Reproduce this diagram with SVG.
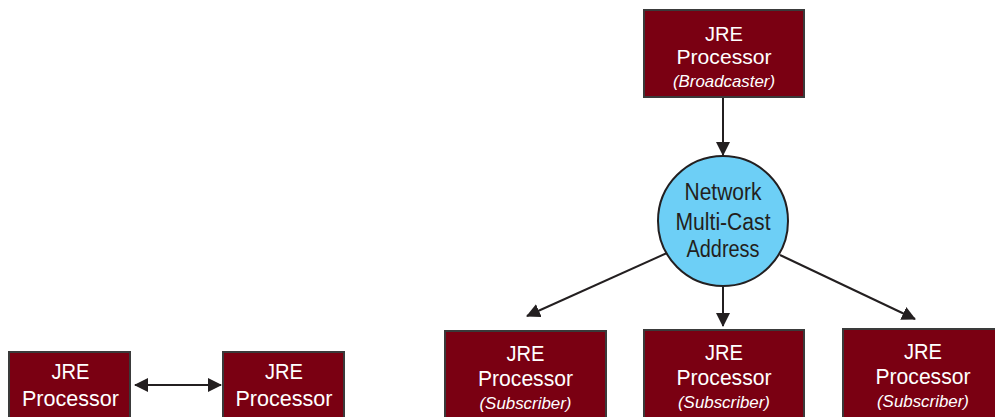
<svg xmlns="http://www.w3.org/2000/svg" width="995" height="417" viewBox="0 0 995 417">
<style>
.box{fill:#7a0012;stroke:#3a3a3a;stroke-width:2}
.t{font-family:"Liberation Sans",Arial,sans-serif;font-size:22.5px;fill:#ffffff;text-anchor:middle}
.tb{font-size:20px}
.s{font-family:"Liberation Sans",Arial,sans-serif;font-size:17px;font-style:italic;fill:#ffffff;text-anchor:middle}
.c{font-family:"Liberation Sans",Arial,sans-serif;font-size:23px;fill:#231f20;text-anchor:middle}
.ln{stroke:#231f20;stroke-width:2;fill:none}
</style>
<defs>
<marker id="ah" markerUnits="userSpaceOnUse" markerWidth="14" markerHeight="14" viewBox="0 0 14 14" refX="13" refY="7" orient="auto-start-reverse">
<path d="M0,0 L14,7 L0,14 Z" fill="#231f20"/>
</marker>
</defs>
<rect width="995" height="417" fill="#ffffff"/>
<g id="connectors">
<line class="ln" x1="723" y1="97" x2="723" y2="155" marker-end="url(#ah)"/>
<line class="ln" x1="667" y1="253" x2="527" y2="316" marker-end="url(#ah)"/>
<line class="ln" x1="723" y1="286" x2="723" y2="326" marker-end="url(#ah)"/>
<line class="ln" x1="780" y1="255" x2="915" y2="319" marker-end="url(#ah)"/>
<line class="ln" x1="135" y1="385" x2="221" y2="385" marker-start="url(#ah)" marker-end="url(#ah)"/>
</g>
<g id="broadcaster">
<rect class="box" x="644" y="10" width="160" height="87"/>
<text class="t tb" x="724" y="40.5" textLength="38" lengthAdjust="spacingAndGlyphs">JRE</text>
<text class="t tb" x="724" y="63.5" textLength="95" lengthAdjust="spacingAndGlyphs">Processor</text>
<text class="s" x="724" y="87" textLength="102" lengthAdjust="spacingAndGlyphs">(Broadcaster)</text>
</g>
<g id="multicast">
<circle cx="723" cy="221" r="65" fill="#6dcff6" stroke="#231f20" stroke-width="2"/>
<text class="c" x="723" y="200" textLength="77" lengthAdjust="spacingAndGlyphs">Network</text>
<text class="c" x="723" y="230" textLength="95" lengthAdjust="spacingAndGlyphs">Multi-Cast</text>
<text class="c" x="723" y="257" textLength="73" lengthAdjust="spacingAndGlyphs">Address</text>
</g>
<g id="subscriber1">
<rect class="box" x="445" y="331" width="161" height="92"/>
<text class="t" x="525.5" y="361" textLength="38" lengthAdjust="spacingAndGlyphs">JRE</text>
<text class="t" x="525.5" y="386" textLength="95" lengthAdjust="spacingAndGlyphs">Processor</text>
<text class="s" x="525.5" y="409" textLength="92" lengthAdjust="spacingAndGlyphs">(Subscriber)</text>
</g>
<g id="subscriber2">
<rect class="box" x="644" y="330" width="160" height="92"/>
<text class="t" x="724" y="360" textLength="38" lengthAdjust="spacingAndGlyphs">JRE</text>
<text class="t" x="724" y="385" textLength="95" lengthAdjust="spacingAndGlyphs">Processor</text>
<text class="s" x="724" y="408" textLength="92" lengthAdjust="spacingAndGlyphs">(Subscriber)</text>
</g>
<g id="subscriber3">
<rect class="box" x="843" y="329" width="160" height="92"/>
<text class="t" x="923" y="359" textLength="38" lengthAdjust="spacingAndGlyphs">JRE</text>
<text class="t" x="923" y="384" textLength="95" lengthAdjust="spacingAndGlyphs">Processor</text>
<text class="s" x="923" y="407" textLength="92" lengthAdjust="spacingAndGlyphs">(Subscriber)</text>
</g>
<g id="peerA">
<rect class="box" x="9" y="352" width="121" height="70"/>
<text class="t" x="70.5" y="379" textLength="38" lengthAdjust="spacingAndGlyphs">JRE</text>
<text class="t" x="70.5" y="406" textLength="97" lengthAdjust="spacingAndGlyphs">Processor</text>
</g>
<g id="peerB">
<rect class="box" x="223" y="352" width="121" height="70"/>
<text class="t" x="284" y="379" textLength="38" lengthAdjust="spacingAndGlyphs">JRE</text>
<text class="t" x="284" y="406" textLength="97" lengthAdjust="spacingAndGlyphs">Processor</text>
</g>
</svg>
